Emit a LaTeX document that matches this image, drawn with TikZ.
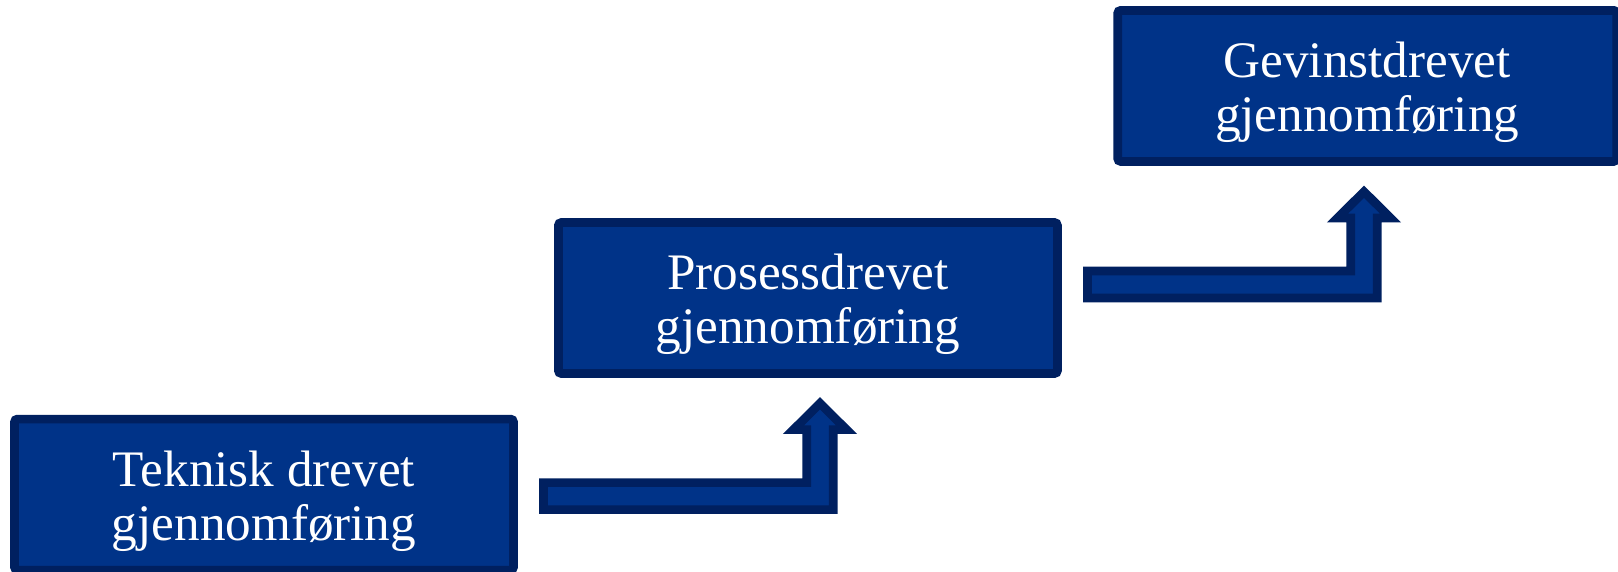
\documentclass[tikz,border=0pt]{standalone}
\usepackage{fontspec}
\setmainfont{Liberation Serif}
\definecolor{boxfill}{HTML}{003388}
\definecolor{boxline}{HTML}{002060}
\tikzset{
  stage/.style={draw=boxline, fill=boxfill, line width=8.7pt, rounded corners=3pt,
    minimum width=499pt, minimum height=151pt, inner sep=0pt, outer sep=0pt},
  stagetext/.style={text=white, align=center, inner sep=0pt,
    font=\fontsize{51.2}{54.5}\selectfont},
  bentshape/.style={draw=boxline, fill=boxfill, line width=8.7pt, line join=miter},
  bentup/.pic={
    \draw[bentshape] (-276.5,0) -- (13.25,0) -- (13.25,-80) -- (26.5,-80)
      -- (0,-106.3) -- (-26.5,-80) -- (-13.25,-80) -- (-13.25,-27)
      -- (-276.5,-27) -- cycle;
  }
}
\begin{document}
\begin{tikzpicture}[x=1pt,y=-1pt]
  \useasboundingbox (0,0) rectangle (1618,571);
  \clip (0,0) rectangle (1618,571);

  % three stages, stepping up to the right
  \node[stage] (b1) at (264,494.6) {};
  \node[stage] (b2) at (807.9,298) {};
  \node[stage] (b3) at (1367.2,85.9) {};

  \node[stagetext] (t1) at ([yshift=-6.5pt]b1.center) {Teknisk drevet\\gjennomføring};
  \node[stagetext] (t2) at ([yshift=-6.5pt]b2.center) {Prosessdrevet\\gjennomføring};
  \node[stagetext] (t3) at ([yshift=-6.5pt]b3.center) {Gevinstdrevet\\gjennomføring};

  % bent-up arrows between the stages
  \coordinate (a1) at (820,509.6);
  \coordinate (a2) at (1364,298);
  \pic at (a1) {bentup};
  \pic at (a2) {bentup};
\end{tikzpicture}
\end{document}
